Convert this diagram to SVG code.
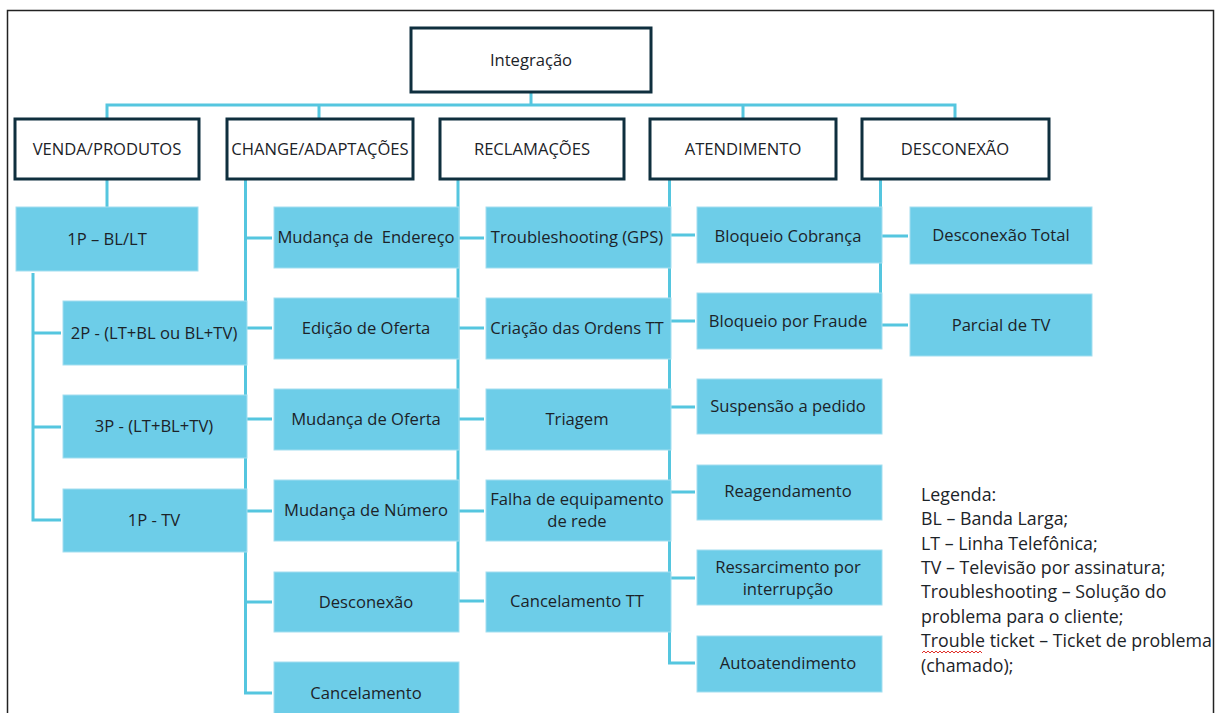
<svg xmlns="http://www.w3.org/2000/svg" width="1220" height="713" viewBox="0 0 1220 713">
  <style>
    .frame { fill: none; stroke: #222; stroke-width: 1.5; }
    .head rect { fill: #fff; stroke: #0f2f3e; stroke-width: 3; }
    .leaf rect { fill: #6dcde8; stroke: #a3def0; stroke-width: 1; }
    text { font-family: "Open Sans", "Liberation Sans", sans-serif; fill: #1c2328; text-anchor: middle; }
    .head text { font-size: 16.6px; }
    .leaf text { font-size: 16.6px; }
    .conn path { fill: none; stroke: #55c6df; stroke-width: 3; }
    .legend text { font-size: 17.8px; text-anchor: start; }
  </style>

  <rect width="1220" height="713" fill="#fff"/>
  <rect class="frame" x="7.5" y="10.5" width="1206" height="720"/>

  <!-- connectors -->
  <g id="connectors" class="conn">
    <path d="M531,92 V105 M107,119 V105 H955 V119 M319,105 V119 M743,105 V119"/>
    <!-- VENDA/PRODUTOS -->
    <path d="M107,179 V207"/>
    <path d="M33,273 V520 H61 M33,333 H61 M33,427 H61"/>
    <!-- CHANGE/ADAPTAÇÕES -->
    <path d="M245.5,179 V693 H272 M245.5,238 H272 M245.5,328 H272 M245.5,419 H272 M245.5,511 H272 M245.5,602 H272"/>
    <!-- RECLAMAÇÕES -->
    <path d="M458,179 V601 H484 M458,238 H484 M458,328 H484 M458,419 H484 M458,511 H484"/>
    <!-- ATENDIMENTO -->
    <path d="M669.5,179 V663 H695 M669.5,235 H695 M669.5,321 H695 M669.5,407 H695 M669.5,492 H695 M669.5,578 H695"/>
    <!-- DESCONEXÃO -->
    <path d="M880.5,179 V325 H908 M880.5,236 H908"/>
  </g>

  <!-- root and level-one nodes -->
  <g id="n-integracao" class="head"><rect x="411" y="28" width="240" height="64"/><text x="531" y="66">Integração</text></g>
  <g id="n-venda" class="head"><rect x="15" y="119" width="184" height="60"/><text x="107" y="155">VENDA/PRODUTOS</text></g>
  <g id="n-change" class="head"><rect x="227" y="119" width="186" height="60"/><text x="320" y="155">CHANGE/ADAPTAÇÕES</text></g>
  <g id="n-reclamacoes" class="head"><rect x="440" y="119" width="184" height="60"/><text x="532" y="155">RECLAMAÇÕES</text></g>
  <g id="n-atendimento" class="head"><rect x="650" y="119" width="186" height="60"/><text x="743" y="155">ATENDIMENTO</text></g>
  <g id="n-desconexao" class="head"><rect x="862" y="119" width="187" height="60"/><text x="955" y="155">DESCONEXÃO</text></g>

  <!-- VENDA/PRODUTOS children -->
  <g id="n-1p-bllt" class="leaf"><rect x="16" y="207" width="182" height="64"/><text x="107" y="245">1P – BL/LT</text></g>
  <g id="n-2p" class="leaf"><rect x="63" y="301" width="184" height="64"/><text x="154" y="339">2P - (LT+BL ou BL+TV)</text></g>
  <g id="n-3p" class="leaf"><rect x="63" y="395" width="184" height="63"/><text x="154" y="432">3P - (LT+BL+TV)</text></g>
  <g id="n-1p-tv" class="leaf"><rect x="63" y="489" width="184" height="63"/><text x="154" y="526">1P - TV</text></g>

  <!-- CHANGE/ADAPTAÇÕES children -->
  <g id="n-mud-endereco" class="leaf"><rect x="274" y="207" width="185" height="61"/><text x="366" y="243" style="white-space:pre">Mudança de  Endereço</text></g>
  <g id="n-edicao-oferta" class="leaf"><rect x="274" y="298" width="185" height="61"/><text x="366" y="334">Edição de Oferta</text></g>
  <g id="n-mud-oferta" class="leaf"><rect x="274" y="389" width="185" height="61"/><text x="366" y="425">Mudança de Oferta</text></g>
  <g id="n-mud-numero" class="leaf"><rect x="274" y="480" width="185" height="61"/><text x="366" y="516">Mudança de Número</text></g>
  <g id="n-desconexao-c" class="leaf"><rect x="274" y="572" width="185" height="60"/><text x="366" y="608">Desconexão</text></g>
  <g id="n-cancelamento" class="leaf"><rect x="274" y="662" width="185" height="62"/><text x="366" y="699">Cancelamento</text></g>

  <!-- RECLAMAÇÕES children -->
  <g id="n-troubleshooting" class="leaf"><rect x="486" y="207" width="185" height="61"/><text x="577" y="243">Troubleshooting (GPS)</text></g>
  <g id="n-criacao" class="leaf"><rect x="486" y="298" width="185" height="61"/><text x="577" y="334">Criação das Ordens TT</text></g>
  <g id="n-triagem" class="leaf"><rect x="486" y="389" width="185" height="61"/><text x="577" y="425">Triagem</text></g>
  <g id="n-falha" class="leaf"><rect x="486" y="480" width="185" height="61"/><text x="577" y="505">Falha de equipamento</text><text x="577" y="527">de rede</text></g>
  <g id="n-cancel-tt" class="leaf"><rect x="486" y="572" width="185" height="60"/><text x="577" y="607">Cancelamento TT</text></g>

  <!-- ATENDIMENTO children -->
  <g id="n-bloq-cobranca" class="leaf"><rect x="697" y="207" width="185" height="56"/><text x="788" y="242">Bloqueio Cobrança</text></g>
  <g id="n-bloq-fraude" class="leaf"><rect x="697" y="293" width="185" height="56"/><text x="788" y="327">Bloqueio por Fraude</text></g>
  <g id="n-suspensao" class="leaf"><rect x="697" y="379" width="185" height="55"/><text x="788" y="412">Suspensão a pedido</text></g>
  <g id="n-reagendamento" class="leaf"><rect x="697" y="465" width="185" height="55"/><text x="788" y="497">Reagendamento</text></g>
  <g id="n-ressarcimento" class="leaf"><rect x="697" y="550" width="185" height="55"/><text x="788" y="573">Ressarcimento por</text><text x="788" y="595">interrupção</text></g>
  <g id="n-autoatendimento" class="leaf"><rect x="697" y="636" width="185" height="56"/><text x="788" y="669">Autoatendimento</text></g>

  <!-- DESCONEXÃO children -->
  <g id="n-desc-total" class="leaf"><rect x="910" y="207" width="182" height="57"/><text x="1001" y="241">Desconexão Total</text></g>
  <g id="n-parcial-tv" class="leaf"><rect x="910" y="294" width="182" height="62"/><text x="1001" y="331">Parcial de TV</text></g>

  <!-- legend -->
  <g id="legend" class="legend">
    <text x="921" y="501">Legenda:</text>
    <text x="921" y="525">BL – Banda Larga;</text>
    <text x="921" y="550">LT – Linha Telefônica;</text>
    <text x="921" y="574">TV – Televisão por assinatura;</text>
    <text x="921" y="598">Troubleshooting – Solução do</text>
    <text x="921" y="623">problema para o cliente;</text>
    <text x="921" y="647">Trouble ticket – Ticket de problema</text>
    <text x="921" y="672">(chamado);</text>
    <path d="M922,653 l2,-2 l2,2 l2,-2 l2,2 l2,-2 l2,2 l2,-2 l2,2 l2,-2 l2,2 l2,-2 l2,2 l2,-2 l2,2 l2,-2 l2,2 l2,-2 l2,2 l2,-2 l2,2 l2,-2 l2,2 l2,-2 l2,2 l2,-2 l2,2 l2,-2 l2,2 l2,-2 l2,2" fill="none" stroke="#e0312b" stroke-width="1"/>
  </g>
</svg>
